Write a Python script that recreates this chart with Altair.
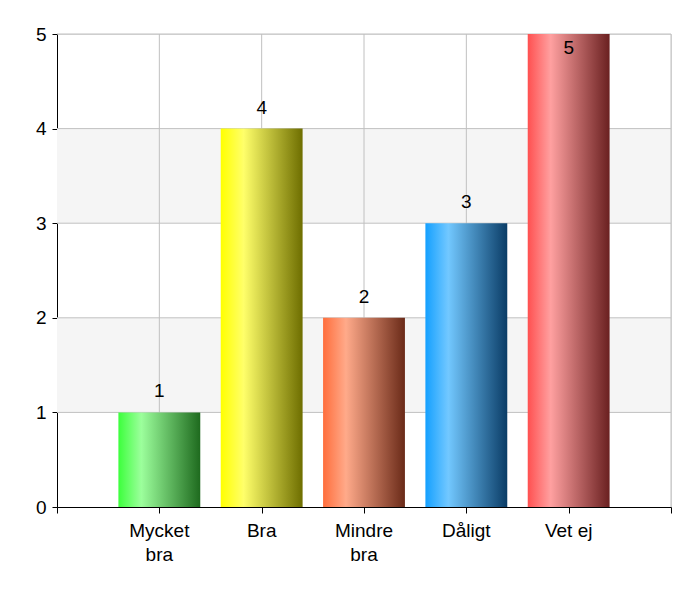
import altair as alt
import pandas as pd

categories = ["Mycket\nbra", "Bra", "Mindre\nbra", "Dåligt", "Vet ej"]
values = [1, 4, 2, 3, 5]
positions = [1, 2, 3, 4, 5]
y_ticks = [0, 1, 2, 3, 4, 5]
x_ticks = [0, 1, 2, 3, 4, 5, 6]
band_starts = [1, 3]

gradients = [
    ["#3cff3c", "#9cff9c", "#1e6a1e"],
    ["#ffff00", "#ffff6a", "#6e6e00"],
    ["#ff6e3c", "#ffaa8a", "#6a2a18"],
    ["#14a0ff", "#72c8ff", "#0a3c66"],
    ["#ff5050", "#ffa0a0", "#6a2020"],
]

df = pd.DataFrame({"cat": categories, "val": values, "pos": positions})
bands = pd.DataFrame({"lo": band_starts})
xg = pd.DataFrame({"x": x_ticks})
yg = pd.DataFrame({"y": y_ticks})

FONT = "Liberation Sans"
W, H = 614, 473

xscale = alt.Scale(domain=[0, 6], nice=False, zero=False)
yscale = alt.Scale(domain=[0, 5], nice=False)

xaxis = alt.Axis(values=x_ticks, labels=False, grid=False, title=None,
                 tickSize=6, domainColor="black", tickColor="black",
                 domainWidth=1, tickWidth=1, domainOpacity=1, tickOpacity=1)
yaxis = alt.Axis(values=y_ticks, grid=False, title=None, format="d",
                 tickSize=5, labelPadding=6, labelFont=FONT, labelFontSize=19,
                 labelColor="black", domainColor="black", tickColor="black",
                 domainWidth=1, tickWidth=1, domainOpacity=1, tickOpacity=1)


def X(field):
    return alt.X(field, type="quantitative", scale=xscale, axis=xaxis)


def Y(field):
    return alt.Y(field, type="quantitative", scale=yscale, axis=yaxis)


band_layer = alt.Chart(bands).mark_rect(color="#f5f5f5").encode(
    x=X("x0"), x2="x1:Q", y=Y("lo"), y2="hi:Q",
).transform_calculate(hi="datum.lo + 1", x0="0", x1="6")

vgrid = alt.Chart(xg).transform_filter("datum.x > 0").mark_rule(
    color="#c0c0c0", strokeWidth=1).encode(x=X("x"))
hgrid = alt.Chart(yg).transform_filter("datum.y > 0").mark_rule(
    color="#c0c0c0", strokeWidth=1).encode(y=Y("y"))

bar_layers = []
for i, g in enumerate(gradients):
    grad = alt.Gradient(
        gradient="linear",
        stops=[alt.GradientStop(color=g[0], offset=0),
               alt.GradientStop(color=g[1], offset=0.28),
               alt.GradientStop(color=g[2], offset=1)],
        x1=0, x2=1, y1=0, y2=0,
    )
    bar_layers.append(
        alt.Chart(df).transform_filter(f"datum.pos == {positions[i]}")
        .transform_calculate(x0="datum.pos - 0.4", x1="datum.pos + 0.4", base="0")
        .mark_bar(color=grad)
        .encode(x=X("x0"), x2="x1:Q", y=Y("val"), y2="base:Q")
    )

max_val = max(values)
labels_above = alt.Chart(df).transform_filter(f"datum.val < {max_val}").mark_text(
    font=FONT, fontSize=19, color="black", baseline="alphabetic", dy=-15
).encode(x=X("pos"), y=Y("val"), text="val:Q")
labels_inside = alt.Chart(df).transform_filter(f"datum.val >= {max_val}").mark_text(
    font=FONT, fontSize=19, color="black", baseline="alphabetic", dy=20
).encode(x=X("pos"), y=Y("val"), text="val:Q")

cat_labels = alt.Chart(df).transform_calculate(zero="0").mark_text(
    font=FONT, fontSize=19, color="black", baseline="alphabetic", dy=30,
    lineBreak="\n", lineHeight=24
).encode(x=X("pos"), y=Y("zero"), text="cat:N")

chart = alt.layer(
    band_layer, vgrid, hgrid, *bar_layers, labels_above, labels_inside, cat_labels
).properties(
    width=W, height=H,
    autosize=alt.AutoSizeParams(type="none"),
    padding={"left": 49, "top": 26, "right": 12, "bottom": 60},
).configure_view(stroke=None).configure(background="white")

chart.save("out.html", embed_options={"renderer": "svg", "actions": False})
